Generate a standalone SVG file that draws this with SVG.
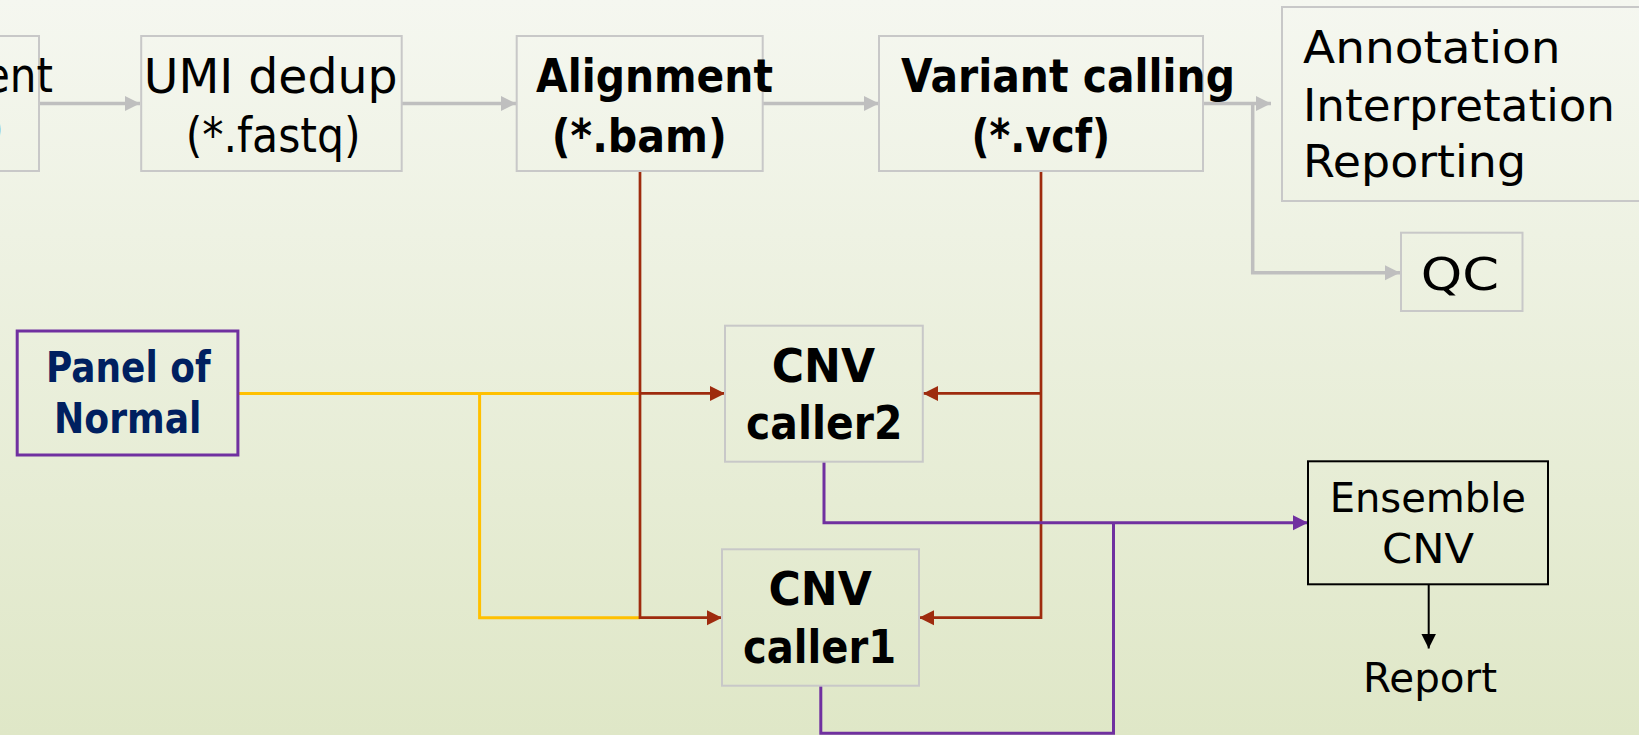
<svg xmlns="http://www.w3.org/2000/svg" width="1639" height="735" viewBox="0 0 1639 735">
<defs>
<linearGradient id="bg" x1="0" y1="0" x2="0" y2="1">
<stop offset="0" stop-color="#f5f7f0"/>
<stop offset="1" stop-color="#dfe7c7"/>
</linearGradient>
<marker id="aGray" markerUnits="userSpaceOnUse" markerWidth="16" markerHeight="16" refX="15" refY="8" orient="auto"><path d="M0 0.5 L15 8 L0 15.5 Z" fill="#bfbfbf"/></marker>
<marker id="aRed" markerUnits="userSpaceOnUse" markerWidth="16" markerHeight="16" refX="15" refY="8" orient="auto"><path d="M0 0.5 L15 8 L0 15.5 Z" fill="#9e2b0e"/></marker>
<marker id="aPurple" markerUnits="userSpaceOnUse" markerWidth="16" markerHeight="16" refX="15" refY="8" orient="auto"><path d="M0 0.5 L15 8 L0 15.5 Z" fill="#7030a0"/></marker>
<marker id="aBlack" markerUnits="userSpaceOnUse" markerWidth="16" markerHeight="16" refX="15" refY="8" orient="auto"><path d="M0 0.5 L15 8 L0 15.5 Z" fill="#000"/></marker>
</defs>
<style>
.box{fill:none;stroke:#c8c8c8;stroke-width:2}
.reg{font-family:"DejaVu Sans","Liberation Sans",sans-serif;fill:#000}
.bold{font-family:"DejaVu Sans","Liberation Sans",sans-serif;font-weight:bold;fill:#000}
.gray{fill:none;stroke:#bfbfbf;stroke-width:3.5}
.red{fill:none;stroke:#9e2b0e;stroke-width:2.7}
.yel{fill:none;stroke:#ffc000;stroke-width:3}
.pur{fill:none;stroke:#7030a0;stroke-width:3}
.blk{fill:none;stroke:#000;stroke-width:2}
</style>
<rect x="0" y="0" width="1639" height="735" fill="url(#bg)"/>

<g id="connectors">
<path class="gray" d="M39 103.5 H140" marker-end="url(#aGray)"/>
<path class="gray" d="M402 103.5 H516" marker-end="url(#aGray)"/>
<path class="gray" d="M763 103.5 H879" marker-end="url(#aGray)"/>
<path class="gray" d="M1203 103.5 H1271" marker-end="url(#aGray)"/>
<path class="gray" d="M1252.7 103.5 V272.7 H1400" marker-end="url(#aGray)"/>
<path class="yel" d="M238 393.4 H640"/>
<path class="yel" d="M479.6 393.4 V617.7 H640"/>
<path class="red" d="M640 171 V617.7 H722" marker-end="url(#aRed)"/>
<path class="red" d="M640 393.4 H725" marker-end="url(#aRed)"/>
<path class="red" d="M1041 171 V617.7 H919" marker-end="url(#aRed)"/>
<path class="red" d="M1041 393.4 H923" marker-end="url(#aRed)"/>
<path class="pur" d="M824 461.7 V522.7 H1308" marker-end="url(#aPurple)"/>
<path class="pur" d="M820.8 685.7 V733.3 H1113.5 V522.7"/>
<path class="blk" d="M1428.7 584.3 V648.5" marker-end="url(#aBlack)"/>
</g>

<g id="node-prev">
<rect class="box" x="-10" y="36" width="49" height="135"/>
<text class="reg" x="-16" y="92.3" font-size="48" textLength="69" lengthAdjust="spacingAndGlyphs">ent</text>
<text class="reg" x="4" y="144" font-size="46" text-anchor="end">)</text>
</g>

<g id="node-umi">
<rect class="box" x="141.2" y="36" width="260.5" height="135"/>
<text class="reg" x="143.8" y="92.7" font-size="48" textLength="253.7" lengthAdjust="spacingAndGlyphs">UMI dedup</text>
<text class="reg" x="185.7" y="151.7" font-size="48" textLength="175" lengthAdjust="spacingAndGlyphs">(*.fastq)</text>
</g>

<g id="node-alignment">
<rect class="box" x="516.7" y="36" width="246" height="135"/>
<text class="bold" x="536" y="92.2" font-size="46" textLength="237" lengthAdjust="spacingAndGlyphs">Alignment</text>
<text class="bold" x="551.8" y="151.7" font-size="46" textLength="175" lengthAdjust="spacingAndGlyphs">(*.bam)</text>
</g>

<g id="node-variant">
<rect class="box" x="879" y="36" width="324" height="135"/>
<text class="bold" x="901" y="91.7" font-size="46" textLength="334" lengthAdjust="spacingAndGlyphs">Variant calling</text>
<text class="bold" x="971.5" y="151.7" font-size="46" textLength="138.5" lengthAdjust="spacingAndGlyphs">(*.vcf)</text>
</g>

<g id="node-annotation">
<rect class="box" x="1282" y="7" width="400" height="194"/>
<text class="reg" x="1303" y="63.3" font-size="45" textLength="257.6" lengthAdjust="spacingAndGlyphs">Annotation</text>
<text class="reg" x="1303" y="120.7" font-size="45" textLength="312" lengthAdjust="spacingAndGlyphs">Interpretation</text>
<text class="reg" x="1303" y="177" font-size="45" textLength="223" lengthAdjust="spacingAndGlyphs">Reporting</text>
</g>

<g id="node-qc">
<rect class="box" x="1401" y="232.7" width="121.5" height="78.3"/>
<text class="reg" x="1420.7" y="290" font-size="45" textLength="78.3" lengthAdjust="spacingAndGlyphs">QC</text>
</g>

<g id="node-panel">
<rect x="17.2" y="331" width="220.7" height="124" fill="none" stroke="#7030a0" stroke-width="3"/>
<text class="bold" x="46" y="382.3" font-size="42" style="fill:#002060" textLength="164.5" lengthAdjust="spacingAndGlyphs">Panel of</text>
<text class="bold" x="54" y="433.3" font-size="42" style="fill:#002060" textLength="147.5" lengthAdjust="spacingAndGlyphs">Normal</text>
</g>

<g id="node-cnv2">
<rect class="box" x="725" y="325.7" width="197.8" height="136"/>
<text class="bold" x="771.7" y="381.7" font-size="46" textLength="103.3" lengthAdjust="spacingAndGlyphs">CNV</text>
<text class="bold" x="746" y="439.3" font-size="46" textLength="156.4" lengthAdjust="spacingAndGlyphs">caller2</text>
</g>

<g id="node-cnv1">
<rect class="box" x="722" y="549.3" width="197" height="136.4"/>
<text class="bold" x="768.5" y="605" font-size="46" textLength="103.3" lengthAdjust="spacingAndGlyphs">CNV</text>
<text class="bold" x="743" y="663.3" font-size="46" textLength="153" lengthAdjust="spacingAndGlyphs">caller1</text>
</g>

<g id="node-ensemble">
<rect x="1308" y="461.3" width="240" height="123" fill="none" stroke="#000" stroke-width="2"/>
<text class="reg" x="1329.7" y="512.3" font-size="40" textLength="196.3" lengthAdjust="spacingAndGlyphs">Ensemble</text>
<text class="reg" x="1382" y="563.3" font-size="40" textLength="92" lengthAdjust="spacingAndGlyphs">CNV</text>
</g>

<g id="node-report">
<text class="reg" x="1363" y="691.7" font-size="40" textLength="134" lengthAdjust="spacingAndGlyphs">Report</text>
</g>
</svg>
